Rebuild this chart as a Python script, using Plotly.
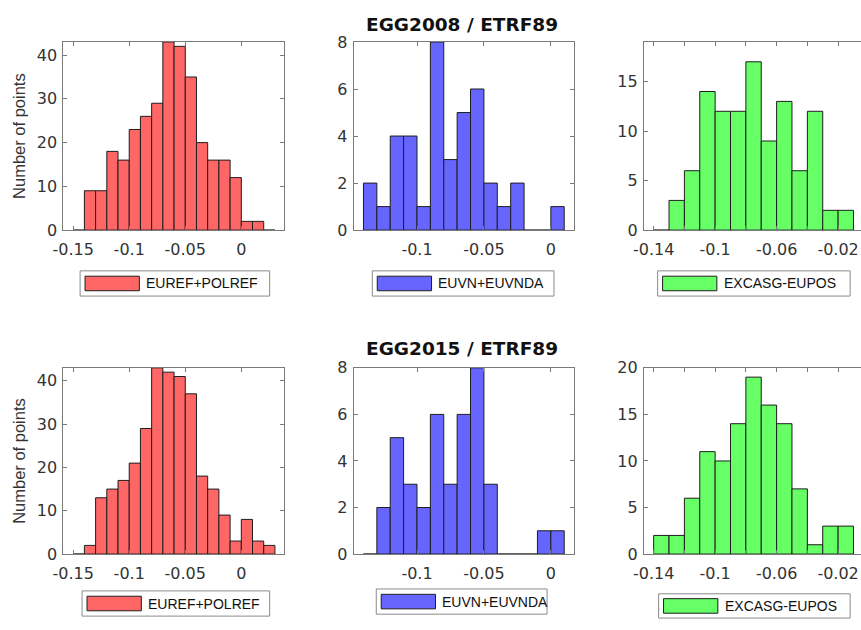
import plotly.graph_objects as go

# ---------------- data ----------------
BIN_W = 0.01
# EGG2008 / ETRF89
euref_2008_start = -0.15
euref_2008_counts = [0, 9, 9, 18, 16, 23, 26, 29, 43, 42, 35, 20, 16, 16, 12, 2, 2, 0]
euvn_2008_start = -0.14
euvn_2008_counts = [2, 1, 4, 4, 1, 8, 3, 5, 6, 2, 1, 2, 0, 0, 1]
excasg_2008_start = -0.14
excasg_2008_counts = [0, 3, 6, 14, 12, 12, 17, 9, 13, 6, 12, 2, 2]
# EGG2015 / ETRF89
euref_2015_start = -0.15
euref_2015_counts = [0, 2, 13, 15, 17, 21, 29, 43, 42, 41, 37, 18, 15, 9, 3, 8, 3, 2]
euvn_2015_start = -0.14
euvn_2015_counts = [0, 2, 5, 3, 2, 6, 3, 6, 8, 3, 0, 0, 0, 1, 1]
excasg_2015_start = -0.14
excasg_2015_counts = [2, 2, 6, 11, 10, 14, 19, 16, 14, 7, 1, 3, 3]

series_names = ["EUREF+POLREF", "EUVN+EUVNDA", "EXCASG-EUPOS"]
titles = ["EGG2008 / ETRF89", "EGG2015 / ETRF89"]

left_xticks = [-0.15, -0.1, -0.05, 0]
left_xlabels = ["-0.15", "-0.1", "-0.05", "0"]
mid_xticks = [-0.1, -0.05, 0]
mid_xlabels = ["-0.1", "-0.05", "0"]
right_xticks = [-0.14, -0.12, -0.1, -0.08, -0.06, -0.04, -0.02]
right_xlabels = ["-0.14", "", "-0.1", "", "-0.06", "", "-0.02"]
left_yticks = [0, 10, 20, 30, 40]
mid_yticks = [0, 2, 4, 6, 8]
right_yticks_top = [0, 5, 10, 15]
right_yticks_bot = [0, 5, 10, 15, 20]

# ---------------- styling ----------------
W, H = 861, 630
colors = ["#ff6666", "#6666ff", "#66ff66"]
FONT = "Liberation Sans, Arial, sans-serif"
TICK_FONT = "DejaVu Sans, Liberation Sans, sans-serif"
AX_COL = "#7a7a7a"
TXT_COL = "#333333"


def px(x):
    return x / W


def py(y):
    return 1 - y / H


col_dom = [(53, 277), (347, 570), (641, 861)]
row_dom = [(34, 228), (370, 562)]
x_ranges = [[-0.1588, 0.0385], [-0.1474, 0.0171], [-0.1464, -0.0051]]
y_ranges = [[[0, 43], [0, 8], [0, 19]], [[0, 43], [0, 8], [0, 20]]]

data = [
    [(euref_2008_start, euref_2008_counts), (euvn_2008_start, euvn_2008_counts),
     (excasg_2008_start, excasg_2008_counts)],
    [(euref_2015_start, euref_2015_counts), (euvn_2015_start, euvn_2015_counts),
     (excasg_2015_start, excasg_2015_counts)],
]

fig = go.Figure()
layout = dict(
    width=W, height=H, autosize=False,
    margin=dict(l=0, r=0, t=0, b=0),
    paper_bgcolor="white", plot_bgcolor="white",
    showlegend=False, barmode="overlay",
    font=dict(family=FONT, size=16, color=TXT_COL),
)

k = 0
for r in range(2):
    for c in range(3):
        k += 1
        start, counts = data[r][c]
        centers = [start + BIN_W * (i + 0.5) for i in range(len(counts))]
        xa = "x" if k == 1 else f"x{k}"
        ya = "y" if k == 1 else f"y{k}"
        fig.add_trace(go.Bar(
            x=centers, y=counts, width=BIN_W,
            marker=dict(color=colors[c], line=dict(color="#1e1e1e", width=1)),
            xaxis=xa, yaxis=ya, name=series_names[c],
        ))
        xkey = "xaxis" if k == 1 else f"xaxis{k}"
        ykey = "yaxis" if k == 1 else f"yaxis{k}"
        if c == 0:
            xt, xtl = left_xticks, left_xlabels
            yt = left_yticks
        elif c == 1:
            xt, xtl = mid_xticks, mid_xlabels
            yt = mid_yticks
        else:
            xt, xtl = right_xticks, right_xlabels
            yt = right_yticks_top if r == 0 else right_yticks_bot
        layout[xkey] = dict(
            domain=[px(col_dom[c][0]), px(col_dom[c][1])],
            range=x_ranges[c], anchor=ya,
            tickmode="array", tickvals=xt, ticktext=xtl,
            showline=True, linecolor=AX_COL, linewidth=1,
            mirror="ticks", ticks="inside", ticklen=4, tickcolor=AX_COL,
            showgrid=False, zeroline=False, ticklabelstandoff=5,
            tickfont=dict(family=TICK_FONT, size=16, color=TXT_COL),
        )
        layout[ykey] = dict(
            domain=[py(row_dom[r][1]), py(row_dom[r][0])],
            range=y_ranges[r][c], anchor=xa,
            tickmode="array", tickvals=yt,
            showline=True, linecolor=AX_COL, linewidth=1,
            mirror=("ticks" if c < 2 else False), ticks="inside", ticklen=4,
            tickcolor=AX_COL, ticklabelstandoff=2,
            showgrid=False, zeroline=False,
            tickfont=dict(family=TICK_FONT, size=16, color=TXT_COL),
        )

fig.update_layout(**layout)

annotations = []
shapes = []
# titles
for r, t in enumerate(titles):
    ycen = [16, 350][r]
    annotations.append(dict(
        x=px(457), y=py(ycen), xref="paper", yref="paper", text=f"<b>{t}</b>",
        showarrow=False, xanchor="center", yanchor="middle",
        font=dict(family=TICK_FONT, size=18.5, color="#111111"),
    ))
# y labels
for r in range(2):
    ycen = (row_dom[r][0] + row_dom[r][1]) / 2
    annotations.append(dict(
        x=px(8), y=py(ycen), xref="paper", yref="paper", text="Number of points",
        showarrow=False, textangle=-90, xanchor="center", yanchor="middle",
        font=dict(family=FONT, size=16.5, color=TXT_COL),
    ))

# legend boxes (x0, x1, y0, y1) in pixels
legend_boxes = [
    [(70, 262, 270, 296), (366, 550, 270, 296), (655, 850, 270, 296)],
    [(72, 262, 600, 626), (370, 543, 598, 624), (656, 850, 603, 628)],
]
for r in range(2):
    for c in range(3):
        x0, x1, y0, y1 = legend_boxes[r][c]
        shapes.append(dict(type="rect", xref="paper", yref="paper",
                           x0=px(x0), x1=px(x1), y0=py(y1), y1=py(y0),
                           line=dict(color="#8a8a8a", width=1), fillcolor="white"))
        ym = (y0 + y1) / 2
        shapes.append(dict(type="rect", xref="paper", yref="paper",
                           x0=px(x0 + 5), x1=px(x0 + 60), y0=py(ym + 7.5), y1=py(ym - 7.5),
                           line=dict(color="#1e1e1e", width=1), fillcolor=colors[c]))
        annotations.append(dict(
            x=px(x0 + 65), y=py(ym), xref="paper", yref="paper", text=series_names[c],
            showarrow=False, xanchor="left", yanchor="middle",
            font=dict(family="Liberation Sans Narrow, Arial Narrow, " + FONT, size=14, color="#111111"),
        ))

fig.update_layout(annotations=annotations, shapes=shapes)
fig.write_html("out.html")
